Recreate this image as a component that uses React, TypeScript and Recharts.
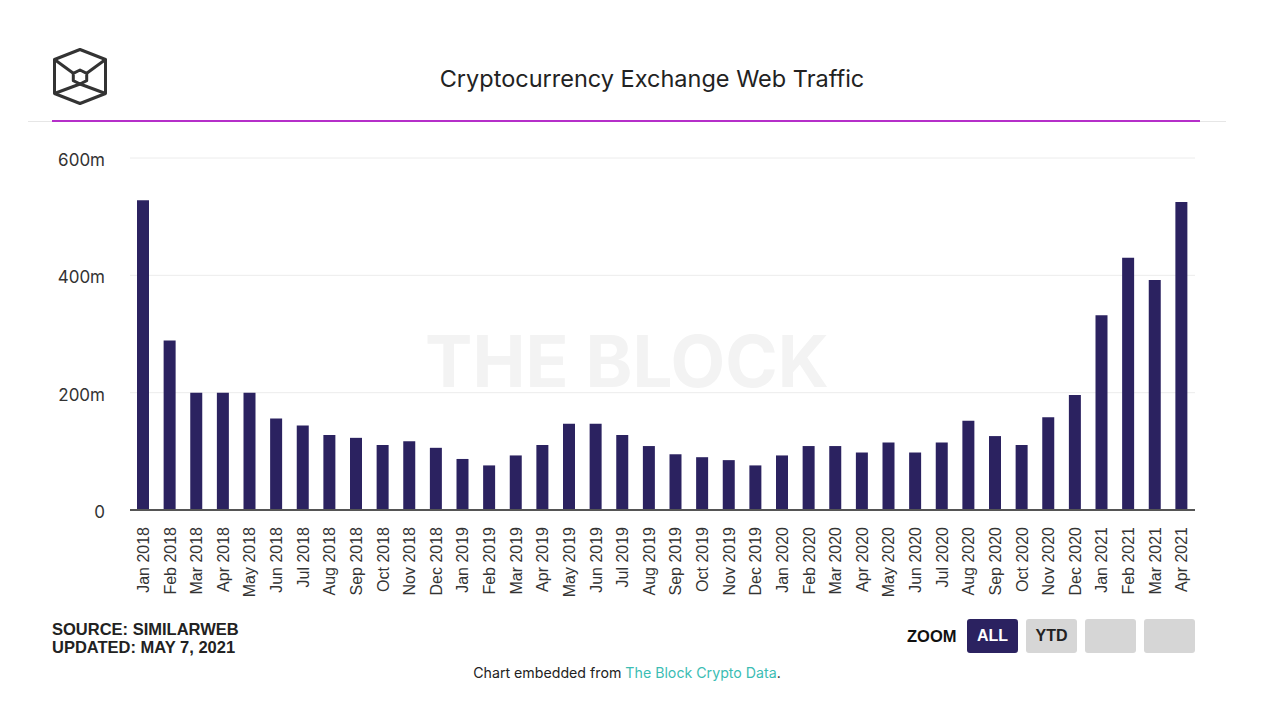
import React from 'react';
import { Bar, BarChart, CartesianGrid, XAxis, YAxis } from 'recharts';

const months = [
  'Jan 2018', 'Feb 2018', 'Mar 2018', 'Apr 2018', 'May 2018', 'Jun 2018',
  'Jul 2018', 'Aug 2018', 'Sep 2018', 'Oct 2018', 'Nov 2018', 'Dec 2018',
  'Jan 2019', 'Feb 2019', 'Mar 2019', 'Apr 2019', 'May 2019', 'Jun 2019',
  'Jul 2019', 'Aug 2019', 'Sep 2019', 'Oct 2019', 'Nov 2019', 'Dec 2019',
  'Jan 2020', 'Feb 2020', 'Mar 2020', 'Apr 2020', 'May 2020', 'Jun 2020',
  'Jul 2020', 'Aug 2020', 'Sep 2020', 'Oct 2020', 'Nov 2020', 'Dec 2020',
  'Jan 2021', 'Feb 2021', 'Mar 2021', 'Apr 2021',
];

// monthly visits, millions
const traffic = [
  528, 289, 200, 200, 200, 156, 144, 128, 123, 111, 117, 106,
  87, 76, 93, 111, 147, 147, 128, 109, 95, 90, 85, 76,
  93, 109, 109, 98, 115, 98, 115, 152, 126, 111, 158, 196,
  332, 430, 392, 525,
];

const yTicks = [0, 200, 400, 600];

const chartData = months.map((month, i) => ({ month, visits: traffic[i] }));

const sans = 'Inter, "Open Sans", sans-serif';
const arial = '"Liberation Sans", Arial, sans-serif';

interface TickProps {
  x?: number;
  y?: number;
  payload?: { value: string };
}

const MonthTick = ({ x, y, payload }: TickProps) => (
  <g transform={`translate(${x},${y})`}>
    <text
      transform="rotate(-90)"
      x={-17}
      dy="0.35em"
      textAnchor="end"
      fill="#333"
      fontSize={16}
      fontFamily={arial}
    >
      {payload?.value}
    </text>
  </g>
);

const Logo = () => (
  <svg width={70} height={70} style={{ position: 'absolute', left: 45, top: 42 }}>
    <g transform="translate(-45,-42)" fill="none" stroke="#333" strokeWidth={3} strokeLinejoin="round">
      <polygon points="80,49.5 105.5,59.5 105.5,93.5 80,103.5 54.5,93.5 54.5,59.5" />
      <polygon points="80,70 86.7,73.3 86.7,80.7 80,84 73.3,80.7 73.3,73.3" />
      <line x1={54.5} y1={59.5} x2={73.3} y2={73.3} />
      <line x1={105.5} y1={59.5} x2={86.7} y2={73.3} />
      <line x1={54.5} y1={93.5} x2={80} y2={84} />
      <line x1={105.5} y1={93.5} x2={80} y2={84} />
    </g>
  </svg>
);

const buttonStyle: React.CSSProperties = {
  position: 'absolute',
  top: 619,
  width: 51,
  height: 34,
  borderRadius: 3,
  background: '#d6d6d6',
  fontFamily: arial,
  fontWeight: 700,
  fontSize: 16,
  lineHeight: '34px',
  textAlign: 'center',
  color: '#222',
};

const App = () => {
  return (
    <div style={{ position: 'absolute', left: 0, top: 0, width: 1280, height: 714, background: '#fff', overflow: 'hidden' }}>
      <Logo />
      <div style={{ position: 'absolute', left: 0, width: 1280, top: 64, textAlign: 'center', paddingLeft: 24, boxSizing: 'border-box', fontFamily: sans, fontSize: 23.5, color: '#222' }}>
        Cryptocurrency Exchange Web Traffic
      </div>
      <div style={{ position: 'absolute', left: 28, top: 121, width: 1198, height: 1, background: '#e6e6e6' }} />
      <div style={{ position: 'absolute', left: 52, top: 120, width: 1148, height: 2, background: '#b52fc9' }} />

      {/* watermark */}
      <div style={{ position: 'absolute', left: 0, width: 1254, top: 318, textAlign: 'center', fontFamily: sans, fontWeight: 700, fontSize: 71, color: '#f3f3f3' }}>
        THE BLOCK
      </div>

      <div style={{ position: 'absolute', left: 0, top: 0 }}>
        <BarChart
          width={1280}
          height={620}
          data={chartData}
          margin={{ top: 158, right: 85, left: 0, bottom: 10 }}
          barSize={12}
        >
          <CartesianGrid vertical={false} stroke="#ececec" />
          <XAxis
            dataKey="month"
            interval={0}
            height={100}
            tickLine={false}
            tickSize={0}
            tickMargin={0}
            axisLine={{ stroke: '#555', strokeWidth: 2 }}
            tick={<MonthTick />}
          />
          <YAxis
            width={130}
            domain={[0, 600]}
            ticks={yTicks}
            axisLine={false}
            tickLine={false}
            tickSize={0}
            tickMargin={25}
            tick={{ fill: '#333', fontSize: 17, fontFamily: sans, dy: 2 }}
            tickFormatter={(v: number) => (v === 0 ? '0' : `${v}m`)}
          />
          <Bar dataKey="visits" fill="#2b2260" isAnimationActive={false} />
        </BarChart>
      </div>

      <div style={{ position: 'absolute', left: 52, top: 620, fontFamily: arial, fontWeight: 700, fontSize: 16.5, lineHeight: '18px', color: '#222' }}>
        <div>SOURCE: SIMILARWEB</div>
        <div>UPDATED: MAY 7, 2021</div>
      </div>

      <div style={{ position: 'absolute', left: 907, top: 619, lineHeight: '34px', fontFamily: arial, fontWeight: 700, fontSize: 16.5, color: '#111' }}>
        ZOOM
      </div>
      <div style={{ ...buttonStyle, left: 967, background: '#2b2260', color: '#fff' }}>ALL</div>
      <div style={{ ...buttonStyle, left: 1026 }}>YTD</div>
      <div style={{ ...buttonStyle, left: 1085 }} />
      <div style={{ ...buttonStyle, left: 1144 }} />

      <div style={{ position: 'absolute', left: 0, width: 1254, top: 664, textAlign: 'center', fontFamily: sans, fontSize: 14.2, color: '#222' }}>
        Chart embedded from <span style={{ color: '#3bbdb4' }}>The Block Crypto Data</span>.
      </div>
    </div>
  );
};

export default App;
